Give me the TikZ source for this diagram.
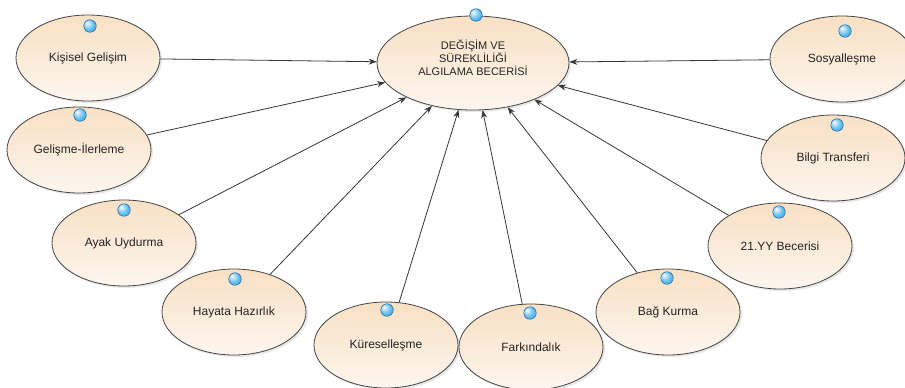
\documentclass[tikz,border=0pt]{standalone}
\usepackage{fontspec}
\setmainfont{Liberation Sans}
\usetikzlibrary{shapes.geometric,shadows,arrows.meta}
\definecolor{peachA}{RGB}{248,224,196}
\definecolor{peachB}{RGB}{253,246,238}
\definecolor{rim}{RGB}{70,70,70}
\definecolor{ink}{RGB}{35,35,35}
\definecolor{lineink}{RGB}{55,55,55}
\definecolor{ballc}{RGB}{95,190,240}
\definecolor{balledge}{RGB}{30,95,160}
\pgfdeclareradialshading{myball}{\pgfpoint{-12bp}{12bp}}{%
  color(0bp)=(white); color(7bp)=(ballc!35!white); color(22bp)=(ballc);
  color(40bp)=(ballc!70!balledge); color(52bp)=(balledge); color(60bp)=(balledge)}
\begin{document}
\begin{tikzpicture}[x=1pt,y=-1pt,
  uc/.style={ellipse, draw=rim, line width=0.8pt, top color=peachA, bottom color=peachB,
    minimum width=144pt, minimum height=86pt, inner sep=0pt,
    drop shadow={opacity=0.18, shadow xshift=2pt, shadow yshift=-2pt}},
  lbl/.style={font=\fontsize{12}{14}\selectfont, text=ink},
  ballst/.style={circle, inner sep=0pt, minimum size=12.5pt, shading=myball, draw=balledge, line width=0.5pt},
  conn/.style={draw=lineink, line width=0.8pt, -{Stealth[length=8pt,width=6pt]}}]
\useasboundingbox (0,0) rectangle (905,388);
\fill[white] (0,0) rectangle (905,388);
\clip (0,0) rectangle (905,388);

% central use case
\node[uc, minimum width=192pt, minimum height=94pt] (c) at (473,63) {};
\node[lbl, font=\fontsize{11}{13}\selectfont, align=center] (ct) at (473,58) {DEĞİŞİM VE\\SÜREKLİLİĞİ\\ALGILAMA BECERİSİ};

% surrounding use cases
\node[uc, lbl] (k)  at (88,58)   {Kişisel Gelişim};
\node[uc, lbl] (g)  at (79,150)  {Gelişme-İlerleme};
\node[uc, lbl] (a)  at (124,243) {Ayak Uydurma};
\node[uc, lbl] (h)  at (234,312) {Hayata Hazırlık};
\node[uc, lbl] (ku) at (386,345) {Küreselleşme};
\node[uc, lbl] (f)  at (531,347) {Farkındalık};
\node[uc, lbl] (b)  at (668,312) {Bağ Kurma};
\node[uc, lbl] (y)  at (780,246) {21.YY Becerisi};
\node[uc, lbl] (bt) at (833,158) {Bilgi Transferi};
\node[uc, lbl] (s)  at (842,59)  {Sosyalleşme};

% connectors
\foreach \n in {k,g,a,h,ku,f,b,y,bt,s} {
  \draw[conn] (\n) -- (c);
}

% balls
\node[ballst] (bc)  at (476,15)  {};
\node[ballst] (bk)  at (90,26)   {};
\node[ballst] (bg)  at (80,115)  {};
\node[ballst] (ba)  at (124,210) {};
\node[ballst] (bh)  at (235,279) {};
\node[ballst] (bku) at (387,310) {};
\node[ballst] (bf)  at (530,313) {};
\node[ballst] (bb)  at (667,278) {};
\node[ballst] (by)  at (779,212) {};
\node[ballst] (bbt) at (837,125) {};
\node[ballst] (bs)  at (845,31)  {};
\end{tikzpicture}
\end{document}
